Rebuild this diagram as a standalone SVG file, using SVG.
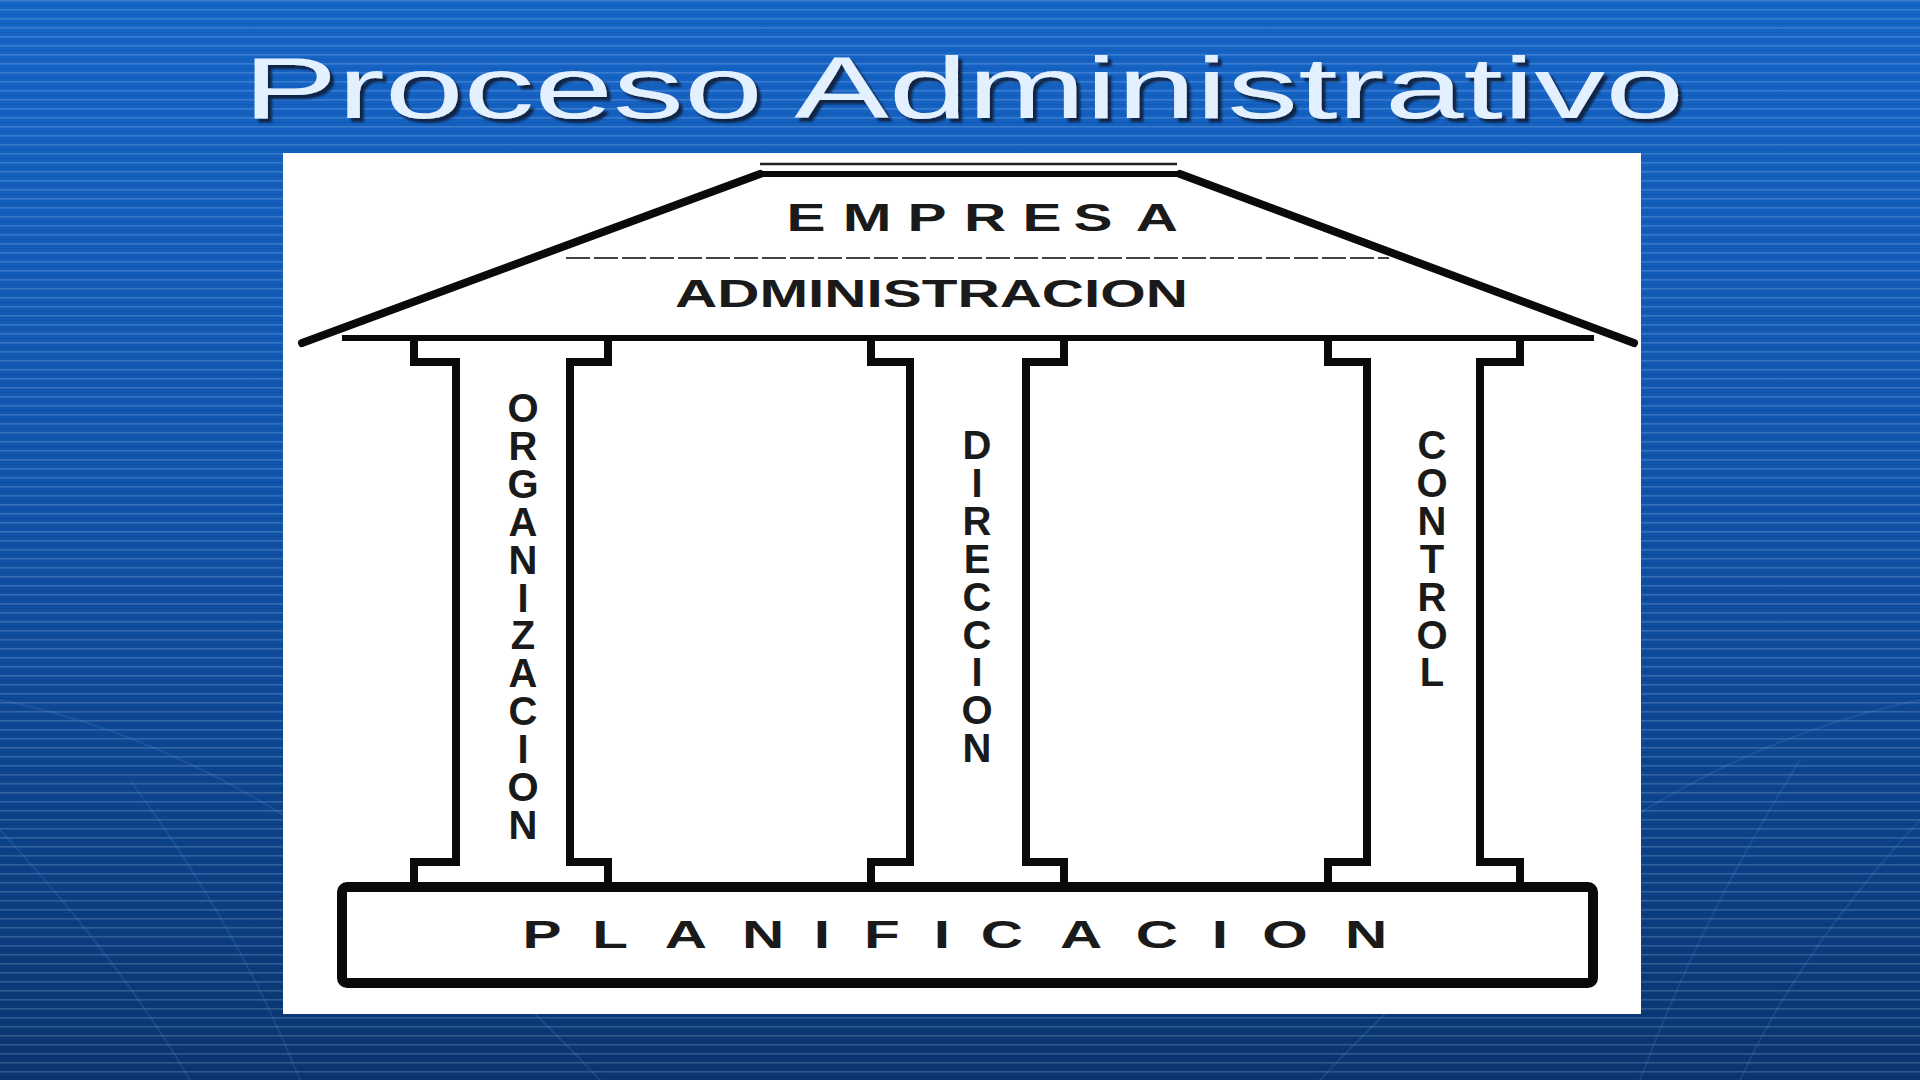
<svg xmlns="http://www.w3.org/2000/svg" width="1920" height="1080" viewBox="0 0 1920 1080">
<defs>
<linearGradient id="bg" x1="0" y1="0" x2="0" y2="1">
<stop offset="0" stop-color="#1565c8"/>
<stop offset="0.45" stop-color="#1054ac"/>
<stop offset="1" stop-color="#0a3570"/>
</linearGradient>
<pattern id="stripes" x="0" y="0" width="20" height="9" patternUnits="userSpaceOnUse">
<rect x="0" y="0" width="20" height="1.6" fill="#ffffff" fill-opacity="0.16"/>
<rect x="0" y="5" width="20" height="1.2" fill="#000000" fill-opacity="0.06"/>
</pattern>
<filter id="shadow" x="-5%" y="-20%" width="110%" height="150%">
<feDropShadow dx="4" dy="4" stdDeviation="1.2" flood-color="#0a1b3a" flood-opacity="0.9"/>
</filter>
<style>
.ln{fill:none;stroke:#0a0a0a;stroke-width:8;stroke-linejoin:miter;stroke-linecap:square}
.lbl{font-family:"Liberation Sans",Arial,sans-serif;font-weight:bold;fill:#1a1a1a}
.vt{font-family:"Liberation Sans",Arial,sans-serif;font-weight:bold;fill:#1a1a1a;font-size:40px;writing-mode:vertical-rl;text-orientation:upright;letter-spacing:-6.1px}
.hz{text-anchor:middle;font-size:39px}
</style>
</defs>
<rect width="1920" height="1080" fill="url(#bg)"/>
<rect width="1920" height="1080" fill="url(#stripes)"/>
<g fill="none" stroke="#5b8fd6" stroke-opacity="0.18" stroke-width="2">
<path d="M0 830 Q120 960 190 1080"/>
<path d="M130 780 Q240 930 300 1080"/>
<path d="M1920 820 Q1800 950 1740 1080"/>
<path d="M1800 760 Q1700 920 1640 1080"/>
<path d="M0 700 Q300 760 600 1080"/>
<path d="M1920 700 Q1620 760 1320 1080"/>
</g>
<g id="title">
<text x="243" y="118" font-family="'Liberation Sans',Arial,sans-serif" font-size="88" fill="#e3f0ff" textLength="1441" lengthAdjust="spacingAndGlyphs" filter="url(#shadow)">Proceso Administrativo</text>
</g>
<rect id="panel" x="283" y="153" width="1358" height="861" fill="#ffffff"/>
<g id="roof">
<line x1="760" y1="164" x2="1177" y2="164" stroke="#222" stroke-width="2.5"/>
<line x1="760" y1="174" x2="1180" y2="174" stroke="#0a0a0a" stroke-width="6"/>
<line x1="760" y1="174" x2="302" y2="343" stroke="#0a0a0a" stroke-width="8" stroke-linecap="round"/>
<line x1="1180" y1="174" x2="1634" y2="343" stroke="#0a0a0a" stroke-width="8" stroke-linecap="round"/>
<line x1="342" y1="338" x2="1594" y2="338" stroke="#0a0a0a" stroke-width="6"/>
<line x1="566" y1="258" x2="1389" y2="258" stroke="#444" stroke-width="2" stroke-dasharray="24 4"/>
<text class="lbl hz" transform="scale(1.5 1)" y="231"><tspan x="537.3">E</tspan><tspan x="578">M</tspan><tspan x="618">P</tspan><tspan x="656.7">R</tspan><tspan x="694.7">E</tspan><tspan x="728.7">S</tspan><tspan x="771.3">A</tspan></text>
<text class="lbl" x="675" y="307" font-size="39" textLength="513" lengthAdjust="spacingAndGlyphs">ADMINISTRACION</text>
</g>
<g id="col-organizacion">
<path class="ln" d="M414 341 V362 H456 V862 H414 V884"/>
<path class="ln" d="M608 341 V362 H570 V862 H608 V884"/>
<text class="vt" x="523" y="386">ORGANIZACION</text>
</g>
<g id="col-direccion">
<path class="ln" d="M871 341 V362 H910 V862 H871 V884"/>
<path class="ln" d="M1064 341 V362 H1026 V862 H1064 V884"/>
<text class="vt" x="977" y="423">DIRECCION</text>
</g>
<g id="col-control">
<path class="ln" d="M1328 341 V362 H1367 V862 H1328 V884"/>
<path class="ln" d="M1520 341 V362 H1480 V862 H1520 V884"/>
<text class="vt" x="1432" y="423">CONTROL</text>
</g>
<g id="base-planificacion">
<rect x="342" y="887" width="1251" height="96" rx="5" fill="#ffffff" stroke="#0a0a0a" stroke-width="10"/>
<text class="lbl hz" transform="scale(1.5 1)" y="948"><tspan x="361.3">P</tspan><tspan x="406.7">L</tspan><tspan x="457.3">A</tspan><tspan x="508.7">N</tspan><tspan x="548">I</tspan><tspan x="588">F</tspan><tspan x="628">I</tspan><tspan x="668">C</tspan><tspan x="720.7">A</tspan><tspan x="771.3">C</tspan><tspan x="813.3">I</tspan><tspan x="856.7">O</tspan><tspan x="910.7">N</tspan></text>
</g>
<g id="connectors"/>
</svg>
